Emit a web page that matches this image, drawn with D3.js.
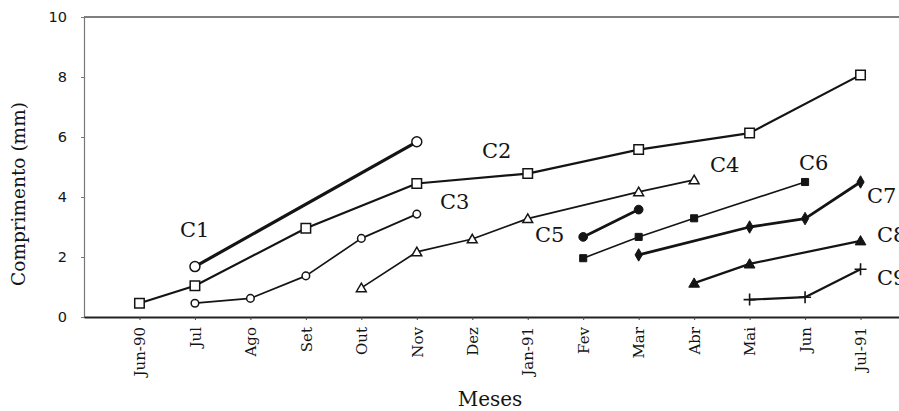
<!DOCTYPE html>
<html>
<head>
<meta charset="utf-8">
<script src="https://cdn.jsdelivr.net/npm/d3@7"></script>
<style>
  html, body { margin: 0; padding: 0; background: #fff; }
  svg { display: block; }
</style>
</head>
<body>
<svg id="chart" width="899" height="411"></svg>
<script>
// ---- Data ----
const months = ["Jun-90","Jul","Ago","Set","Out","Nov","Dez","Jan-91","Fev","Mar","Abr","Mai","Jun","Jul-91"];
const yTicks = [0, 2, 4, 6, 8, 10];

const c1Months = ["Jul","Nov"];
const c1Values = [1.68, 5.84];
const c2Months = ["Jun-90","Jul","Set","Nov","Jan-91","Mar","Mai","Jul-91"];
const c2Values = [0.46, 1.04, 2.96, 4.45, 4.78, 5.58, 6.13, 8.07];
const c3Months = ["Jul","Ago","Set","Out","Nov"];
const c3Values = [0.46, 0.62, 1.37, 2.62, 3.43];
const c4Months = ["Out","Nov","Dez","Jan-91","Mar","Abr"];
const c4Values = [0.97, 2.17, 2.6, 3.28, 4.17, 4.57];
const c5Months = ["Fev","Mar"];
const c5Values = [2.67, 3.58];
const c6Months = ["Fev","Mar","Abr","Jun"];
const c6Values = [1.96, 2.67, 3.29, 4.5];
const c7Months = ["Mar","Mai","Jun","Jul-91"];
const c7Values = [2.07, 3.0, 3.28, 4.5];
const c8Months = ["Abr","Mai","Jul-91"];
const c8Values = [1.13, 1.77, 2.54];
const c9Months = ["Mai","Jun","Jul-91"];
const c9Values = [0.58, 0.66, 1.59];

const seriesNames = ["C1","C2","C3","C4","C5","C6","C7","C8","C9"];

// ---- Styles (kept separate from data) ----
const styles = {
  C1: {sym: "circle",   fill: false, size: 78,  lw: 3.2, lab: [180, 237]},
  C2: {sym: "square",   fill: false, size: 90,  lw: 2.2, lab: [482, 158]},
  C3: {sym: "circle",   fill: false, size: 45,  lw: 1.7, lab: [440, 209]},
  C4: {sym: "triangle", fill: false, size: 42,  lw: 1.7, lab: [710, 172]},
  C5: {sym: "circle",   fill: true,  size: 60,  lw: 2.8, lab: [535, 242]},
  C6: {sym: "square",   fill: true,  size: 50,  lw: 1.6, lab: [799, 170]},
  C7: {sym: "diamond",  fill: true,  size: 45,  lw: 2.8, lab: [867, 203]},
  C8: {sym: "triangle", fill: true,  size: 50,  lw: 2.2, lab: [877, 242]},
  C9: {sym: "cross",    fill: true,  size: 0,   lw: 2.2, lab: [877, 285]}
};

const allMonths = [c1Months,c2Months,c3Months,c4Months,c5Months,c6Months,c7Months,c8Months,c9Months];
const allValues = [c1Values,c2Values,c3Values,c4Values,c5Values,c6Values,c7Values,c8Values,c9Values];
const series = seriesNames.map((n, i) => ({
  name: n,
  pts: allMonths[i].map((m, j) => ({m, v: allValues[i][j]}))
}));

// ---- Scales ----
const svg = d3.select("#chart");
const x = d3.scalePoint().domain(months).range([84, 916]).padding(1);
const y = d3.scaleLinear().domain([0, 10]).range([317, 17]);
const ink = "#141414";

// top border
svg.append("line")
  .attr("x1", x.range()[0]).attr("x2", x.range()[1])
  .attr("y1", y(10)).attr("y2", y(10))
  .attr("stroke", "#555").attr("stroke-width", 1.4);

// y axis
const yAxis = svg.append("g").attr("transform", `translate(${x.range()[0]},0)`)
  .call(d3.axisLeft(y).tickValues(yTicks).tickSize(3).tickPadding(14));
yAxis.select(".domain").attr("stroke", "#777").attr("stroke-width", 1.2);
yAxis.selectAll(".tick line").attr("stroke", "#777");
yAxis.selectAll("text")
  .attr("font-family", "DejaVu Sans, sans-serif")
  .attr("font-size", 14.5).attr("fill", ink);

// x axis
const xAxis = svg.append("g").attr("transform", `translate(0,${y(0)})`)
  .call(d3.axisBottom(x).tickSize(3).tickSizeOuter(0));
xAxis.select(".domain").attr("stroke", "#222").attr("stroke-width", 2);
xAxis.selectAll(".tick line").attr("stroke", "#444");
xAxis.selectAll("text")
  .attr("font-family", "DejaVu Serif, serif")
  .attr("font-size", 15).attr("fill", ink)
  .attr("transform", "rotate(-90)")
  .attr("text-anchor", "end")
  .attr("x", -10).attr("y", 0).attr("dy", "0.35em");

// axis titles
svg.append("text")
  .attr("transform", `translate(25,${(y(0) + y(10)) / 2 + 27}) rotate(-90)`)
  .attr("text-anchor", "middle")
  .attr("font-family", "DejaVu Serif, serif")
  .attr("font-size", 18.5).attr("fill", ink)
  .text("Comprimento (mm)");

svg.append("text")
  .attr("x", 490).attr("y", 406)
  .attr("text-anchor", "middle")
  .attr("font-family", "DejaVu Serif, serif")
  .attr("font-size", 20).attr("fill", ink)
  .text("Meses");

// lines
const line = d3.line().x(d => x(d.m)).y(d => y(d.v));
const symMap = {
  circle: d3.symbolCircle, square: d3.symbolSquare,
  triangle: d3.symbolTriangle, diamond: d3.symbolDiamond
};

series.forEach(s => {
  const st = styles[s.name];
  svg.append("path").datum(s.pts)
    .attr("d", line)
    .attr("fill", "none").attr("stroke", ink)
    .attr("stroke-width", st.lw).attr("stroke-linejoin", "round");

  const g = svg.append("g");
  if (st.sym === "cross") {
    g.selectAll("path").data(s.pts).join("path")
      .attr("transform", d => `translate(${x(d.m)},${y(d.v)})`)
      .attr("d", "M-6,0H6M0,-6V6")
      .attr("stroke", ink).attr("stroke-width", 1.6).attr("fill", "none");
  } else {
    g.selectAll("path").data(s.pts).join("path")
      .attr("transform", d => `translate(${x(d.m)},${y(d.v) + (st.sym === "triangle" ? 1 : 0)})`)
      .attr("d", d3.symbol(symMap[st.sym], st.size))
      .attr("fill", st.fill ? ink : "#fff")
      .attr("stroke", ink).attr("stroke-width", st.fill ? 1 : 1.5);
  }

  svg.append("text")
    .attr("x", st.lab[0]).attr("y", st.lab[1])
    .attr("font-family", "DejaVu Serif, serif")
    .attr("font-size", 21).attr("fill", ink)
    .text(s.name);
});
</script>
</body>
</html>
